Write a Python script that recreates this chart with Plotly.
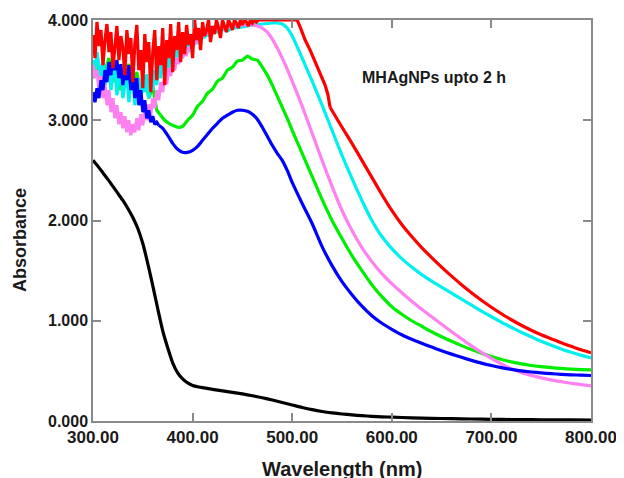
import plotly.graph_objects as go

# ---------------- data ----------------
black_x = [300,305,310,315,320,325,330,335,340,345,350,355,360,365,370,375,380,385,390,395,
           400,410,420,430,440,450,460,470,480,490,500,510,520,530,540,550,560,570,580,590,
           600,620,640,660,680,700,720,740,760,780,800]
black_y = [2.60,2.54,2.475,2.41,2.34,2.27,2.20,2.12,2.03,1.92,1.77,1.57,1.35,1.12,0.90,0.73,0.58,0.48,0.42,0.38,
           0.355,0.333,0.316,0.30,0.286,0.27,0.252,0.232,0.21,0.185,0.16,0.135,0.113,0.095,0.081,0.07,0.061,0.053,0.047,0.042,
           0.038,0.032,0.027,0.023,0.02,0.017,0.015,0.013,0.012,0.011,0.01]

tail_x = list(range(510, 801, 10))   # common 10 nm grid of the smooth tails

green_x = [300,304,308,312,316,320,324,328,332,336,340,344,348,352,356,360,364,368,
           372,376,380,385,390,395,400,405,410,415,420,425,430,435,440,445,450,455,460,465,470,475,
           480,485,490,495,500] + tail_x
green_y = [3.42,3.58,3.36,3.50,3.62,3.38,3.52,3.30,3.46,3.56,3.32,3.48,3.28,3.44,3.22,3.34,3.10,3.05,
           3.00,2.97,2.95,2.93,2.94,3.00,3.05,3.14,3.19,3.27,3.31,3.39,3.42,3.50,3.53,3.59,3.60,3.64,3.61,3.60,3.53,3.45,
           3.35,3.24,3.13,3.02,2.90,
           2.67,2.44,2.21,2.00,1.82,1.65,1.50,1.36,1.24,1.14,1.065,1.00,0.945,0.89,0.84,0.795,0.752,0.712,0.676,0.643,
           0.614,0.59,0.57,0.554,0.542,0.532,0.524,0.518,0.513,0.51]

cyan_x = list(range(300, 421, 2)) + [425,430,435,440,450,460,470,480,485,490,495,500] + tail_x
cyan_y = [3.60,3.45,3.68,3.52,3.40,3.62,3.35,3.50,3.58,3.30,3.46,3.55,3.25,3.42,3.50,3.22,
          3.38,3.48,3.18,3.36,3.45,3.15,3.32,3.42,3.20,3.38,3.28,3.46,3.22,3.40,3.30,
          3.50,3.35,3.55,3.42,3.60,3.45,3.64,3.50,3.68,3.55,3.72,3.58,3.70,3.62,3.75,
          3.64,3.78,3.68,3.80,3.72,3.83,3.76,3.85,3.79,3.86,3.82,3.88,3.84,3.89,3.90,
          3.88,3.91,3.89,3.92,3.93,3.95,3.96,3.97,3.97,3.96,3.92,3.84,
          3.62,3.39,3.15,2.90,2.65,2.42,2.20,2.00,1.84,1.72,1.62,1.535,1.46,1.395,1.335,1.275,1.215,1.155,1.095,1.04,
          0.985,0.935,0.885,0.84,0.795,0.755,0.718,0.685,0.655,0.63]

pink_x = list(range(300, 399, 2)) + [400,405,410,415,420,430,440,
          450,460,465,470,475,480,485,490,495,500] + tail_x
pink_y = [3.55,3.42,3.50,3.30,3.44,3.22,3.36,3.15,3.30,3.08,3.22,3.02,3.15,2.96,3.08,2.92,
          3.04,2.88,3.00,2.85,2.96,2.88,3.02,2.90,3.06,2.95,3.10,3.00,3.16,3.05,3.22,
          3.12,3.30,3.20,3.38,3.28,3.45,3.36,3.52,3.44,3.58,3.50,3.62,3.56,3.66,3.62,
          3.68,3.66,3.72,3.73,
          3.74,3.80,3.84,3.87,3.89,3.92,3.94,
          3.95,3.95,3.94,3.92,3.88,3.81,3.72,3.62,3.51,3.39,
          3.14,2.87,2.60,2.34,2.10,1.90,1.73,1.59,1.47,1.37,1.28,1.195,1.115,1.04,0.965,0.89,0.82,0.75,0.685,0.625,
          0.57,0.522,0.485,0.455,0.43,0.41,0.392,0.377,0.363,0.35]

blue_x = list(range(300, 367, 2)) + [370,375,380,385,390,395,400,405,410,415,420,425,430,435,440,445,450,
          455,460,465,470,475,480,485,490,495,500] + tail_x
blue_y = [3.28,3.18,3.32,3.22,3.40,3.30,3.50,3.38,3.58,3.45,3.62,3.50,3.60,3.42,3.56,3.35,
          3.52,3.40,3.55,3.30,3.48,3.22,3.42,3.15,3.30,3.08,3.20,3.02,3.10,2.98,3.04,2.96,2.98,2.95,
          2.92,2.85,2.77,2.71,2.68,2.68,2.70,2.74,2.80,2.86,2.92,2.97,3.02,3.05,3.08,3.10,3.10,
          3.09,3.06,3.01,2.93,2.84,2.75,2.67,2.60,2.50,2.38,
          2.17,1.97,1.74,1.55,1.39,1.26,1.145,1.05,0.975,0.915,0.86,0.815,0.775,0.737,0.701,0.667,0.635,0.605,0.577,0.553,
          0.532,0.515,0.50,0.489,0.48,0.472,0.466,0.461,0.457,0.454]

red_x = list(range(300, 471, 2)) + [480,500,505,508,513,518,523,528,533,536,538] + list(range(550, 801, 10))
red_y = [3.85,3.62,3.98,3.74,3.90,3.55,3.80,3.96,3.68,3.88,3.52,3.78,3.94,3.60,3.84,3.72,
         3.45,3.90,3.66,3.82,3.38,3.76,3.95,3.50,3.70,3.32,3.86,3.58,3.78,3.28,3.68,
         3.90,3.40,3.74,3.55,3.92,3.35,3.80,3.62,3.96,3.48,3.84,3.70,3.98,3.58,3.88,
         3.66,3.95,3.75,3.86,3.62,4.00,3.80,3.92,3.70,3.98,3.84,3.90,4.00,3.78,3.94,
         3.86,4.00,3.92,3.82,4.00,3.95,3.88,4.00,3.96,3.90,4.00,3.97,3.92,4.00,3.95,
         4.00,3.98,3.94,4.00,3.97,4.00,3.98,4.00,4.00,4.00,
         4.00,4.00,4.00,3.93,3.80,3.70,3.58,3.47,3.35,3.25,3.13,
         2.93,2.77,2.60,2.43,2.26,2.10,1.96,1.84,1.73,1.63,1.535,1.445,1.36,1.28,1.205,1.135,
         1.07,1.01,0.955,0.905,0.86,0.82,0.78,0.745,0.71,0.68]

# last wavelength of the noisy / jagged part of each spectrum
noise_end = {"black": 300, "green": 368, "cyan": 420, "pink": 398, "blue": 366, "red": 538}

x_ticks = [300, 400, 500, 600, 700, 800]
y_ticks = [0, 1, 2, 3, 4]
annotation_text = "MHAgNPs upto 2 h"

# ---------------- figure ----------------
series = [
    ("black", black_x, black_y, "#000000"),
    ("green", green_x, green_y, "#00ee00"),
    ("cyan", cyan_x, cyan_y, "#00f0f0"),
    ("pink", pink_x, pink_y, "#ff80f0"),
    ("blue", blue_x, blue_y, "#0000ff"),
    ("red", red_x, red_y, "#ff0000"),
]

fig = go.Figure()
for name, xs, ys, col in series:
    k = xs.index(noise_end[name])
    if k > 0:
        # jagged part drawn with straight segments
        fig.add_trace(go.Scatter(x=xs[:k + 1], y=ys[:k + 1], mode="lines",
                                 line=dict(color=col, width=3.2),
                                 showlegend=False, hoverinfo="skip"))
    # smooth part
    fig.add_trace(go.Scatter(x=xs[k:], y=ys[k:], mode="lines",
                             line=dict(color=col, width=3.2, shape="spline", smoothing=0.6),
                             showlegend=False, hoverinfo="skip"))

font_family = "Liberation Sans, Arial, sans-serif"
axis_common = dict(showline=True, linecolor="#8a8a8a", linewidth=1.5,
                   mirror="ticks", ticks="inside", ticklen=8, tickwidth=1.5,
                   tickcolor="#8a8a8a", showgrid=False, zeroline=False,
                   automargin=False)

# the page body adds an 8px offset, so margins are compensated to put the
# plot area at x 93..591, y 20..421 of the window
fig.update_layout(
    width=624, height=478,
    margin=dict(l=85, r=41, t=12, b=65),
    paper_bgcolor="white", plot_bgcolor="white",
    font=dict(family=font_family, color="#1a1a1a"),
    xaxis=dict(range=[300, 800], tickvals=x_ticks,
               ticktext=[f"{v:.2f}" for v in x_ticks],
               tickfont=dict(size=17, family=font_family, weight="bold", color="#1a1a1a"),
               **axis_common),
    yaxis=dict(range=[0, 4], tickvals=y_ticks,
               ticktext=[f"{v:.3f}" for v in y_ticks],
               tickfont=dict(size=16, family=font_family, weight="bold", color="#1a1a1a"),
               **axis_common),
    annotations=[
        dict(text=annotation_text, x=568, y=3.43, xref="x", yref="y",
             xanchor="left", yanchor="middle", showarrow=False,
             font=dict(size=16, family=font_family, weight="bold", color="#1a1a1a")),
        dict(text="Wavelength (nm)", x=0.5, y=-0.088, xref="paper", yref="paper",
             xanchor="center", yanchor="top", showarrow=False,
             font=dict(size=20, family=font_family, weight="bold", color="#1a1a1a")),
        dict(text="Absorbance", x=-0.147, y=0.451, xref="paper", yref="paper",
             xanchor="center", yanchor="middle", textangle=-90, showarrow=False,
             font=dict(size=18, family=font_family, weight="bold", color="#1a1a1a")),
    ],
)

fig.write_html("out.html")
